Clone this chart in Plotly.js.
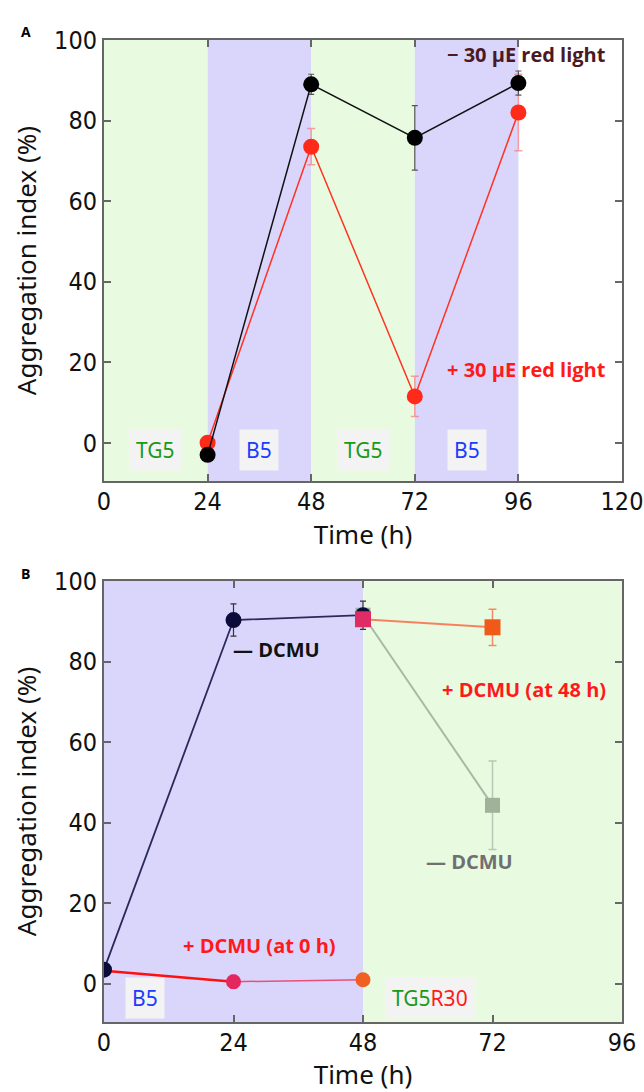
<!DOCTYPE html>
<html><head><meta charset="utf-8">
<script src="https://cdn.plot.ly/plotly-3.0.1.min.js"></script>
<style>html,body{margin:0;padding:0;background:#fff}#chart{width:644px;height:1092px}</style>
</head><body><div id="chart"></div>
<script>
// Panel A data
const timeA = [24, 48, 72, 96];
const minusRedA = [-3, 89, 75.7, 89.3];
const minusRedErrA = [0.8, 2.5, 8, 3];
const plusRedA = [0, 73.5, 11.5, 82];
const plusRedErrA = [0, 4.5, 5, 9.5];
const bandsA = [[0, 24, 'TG5'], [24, 48, 'B5'], [48, 72, 'TG5'], [72, 96, 'B5']];
// Panel B data
const timeB = [0, 24, 48];
const minusDCMU = [3.5, 90.3, 91.5];
const minusDCMUErr = [0, 4, 3.5];
const timeB2 = [48, 72];
const minusDCMU_R = [91.5, 44.3];
const minusDCMU_RErr = [0, 11];
const plusDCMU48 = [90.5, 88.5];
const plusDCMU48Err = [0, 4.5];
const plusDCMU0 = [3.2, 0.5, 1.0];
const plusDCMU0Err = [0, 1.5, 0];
const bandsB = [[0, 48, 'B5'], [48, 96, 'TG5R30']];
const ticksA = [0, 24, 48, 72, 96, 120];
const ticksB = [0, 24, 48, 72, 96];
const ticksY = [0, 20, 40, 60, 80, 100];

const GREEN = '#e8fbe1', PURPLE = '#dad5fb';
const tickFont = {family: '"Liberation Sans Narrow", "DejaVu Sans Condensed", "Roboto Condensed", Roboto, sans-serif', size: 25, color: '#111'};
const titleFont = {family: '"Noto Sans", Lato, sans-serif', size: 26, color: '#111'};
const boldFont = (c) => ({family: '"Open Sans", "Noto Sans", sans-serif', size: 20, color: c, weight: 700});

const traces = [
  // Panel A
  {x: timeA, y: plusRedA, xaxis: 'x', yaxis: 'y', mode: 'lines+markers',
   line: {color: '#ff3322', width: 1.5}, marker: {color: '#ff2a1a', size: 16},
   error_y: {type: 'data', array: plusRedErrA, color: 'rgba(255,90,90,0.55)', thickness: 1.5, width: 4}},
  {x: timeA, y: minusRedA, xaxis: 'x', yaxis: 'y', mode: 'lines+markers',
   line: {color: '#111', width: 1.5}, marker: {color: '#000', size: 16},
   error_y: {type: 'data', array: minusRedErrA, color: '#555', thickness: 1.2, width: 3}},
  // Panel B
  {x: timeB2, y: minusDCMU_R, xaxis: 'x2', yaxis: 'y2', mode: 'lines+markers',
   line: {color: '#a9b9a4', width: 2}, marker: {color: '#9fb39a', size: 15, symbol: 'square'},
   error_y: {type: 'data', array: minusDCMU_RErr, color: '#b8c8b4', thickness: 1.5, width: 4}},
  {x: timeB.slice(0, 2), y: plusDCMU0.slice(0, 2), xaxis: 'x2', yaxis: 'y2', mode: 'lines',
   line: {color: '#ff1010', width: 2.5}},
  {x: timeB.slice(1), y: plusDCMU0.slice(1), xaxis: 'x2', yaxis: 'y2', mode: 'lines+markers',
   line: {color: '#e8507a', width: 1.5}, marker: {color: ['#e2285e', '#f06020'], size: 15},
   error_y: {type: 'data', array: plusDCMU0Err.slice(1), color: '#e2285e', thickness: 2, width: 3}},
  {x: timeB, y: minusDCMU, xaxis: 'x2', yaxis: 'y2', mode: 'lines+markers',
   line: {color: '#2a2a5a', width: 1.8}, marker: {color: '#0c0c3a', size: 16},
   error_y: {type: 'data', array: minusDCMUErr, color: '#333', thickness: 1.2, width: 3}},
  {x: timeB2, y: plusDCMU48, xaxis: 'x2', yaxis: 'y2', mode: 'lines+markers',
   line: {color: '#f88060', width: 2}, marker: {color: ['#e02c64', '#f05a18'], size: 16, symbol: 'square'},
   error_y: {type: 'data', array: plusDCMU48Err, color: '#f28a6a', thickness: 1.5, width: 4}}
];

const shapes = [];
bandsA.forEach(b => shapes.push({type: 'rect', xref: 'x', yref: 'y domain', x0: b[0], x1: b[1], y0: 0, y1: 1,
  fillcolor: b[2] === 'B5' ? PURPLE : GREEN, line: {width: 0}, layer: 'below'}));
bandsB.forEach(b => shapes.push({type: 'rect', xref: 'x2', yref: 'y2 domain', x0: b[0], x1: b[1], y0: 0, y1: 1,
  fillcolor: b[2] === 'B5' ? PURPLE : GREEN, line: {width: 0}, layer: 'below'}));

const boxFont = (c) => ({family: '"Noto Sans", Roboto, sans-serif', size: 21, color: c});
const annotations = [];
bandsA.forEach(b => annotations.push({xref: 'x', yref: 'y', x: (b[0] + b[1]) / 2, y: -1.8, text: b[2], showarrow: false,
  font: boxFont(b[2] === 'B5' ? '#1a3cff' : '#1a9a1a'), bgcolor: '#f3f3f3', borderpad: 6}));
annotations.push({xref: 'x2', yref: 'y2', x: 7.6, y: -3.5, text: 'B5', showarrow: false, font: boxFont('#1a3cff'), bgcolor: '#f3f3f3', borderpad: 6});
annotations.push({xref: 'x2', yref: 'y2', x: 60.5, y: -3.5, text: '<span style="color:#1a9a1a">TG5</span><span style="color:#ff1a1a">R30</span>', showarrow: false, font: boxFont('#1a9a1a'), bgcolor: '#f3f3f3', borderpad: 6});

annotations.push({xref: 'x', yref: 'y', x: 116.8, y: 96.4, xanchor: 'right', text: '<b>− 30 µE red light</b>', showarrow: false, font: boldFont('#4a1a24')});
annotations.push({xref: 'x', yref: 'y', x: 116.8, y: 18.1, xanchor: 'right', text: '<b>+ 30 µE red light</b>', showarrow: false, font: boldFont('#ff1a1a')});
annotations.push({xref: 'x2', yref: 'y2', x: 23.5, y: 83, xanchor: 'left', text: '<b>— DCMU</b>', showarrow: false, font: boldFont('#111')});
annotations.push({xref: 'x2', yref: 'y2', x: 93.4, y: 73, xanchor: 'right', text: '<b>+ DCMU (at 48 h)</b>', showarrow: false, font: boldFont('#ff1a1a')});
annotations.push({xref: 'x2', yref: 'y2', x: 59.3, y: 30.3, xanchor: 'left', text: '<b>— DCMU</b>', showarrow: false, font: boldFont('#707070')});
annotations.push({xref: 'x2', yref: 'y2', x: 14.2, y: 9.4, xanchor: 'left', text: '<b>+ DCMU (at 0 h)</b>', showarrow: false, font: boldFont('#ff1a1a')});
annotations.push({xref: 'paper', yref: 'paper', x: -0.165, y: 1.02, xanchor: 'left', text: '<b>A</b>', showarrow: false, font: {family: '"Open Sans", sans-serif', size: 14, color: '#000'}});
annotations.push({xref: 'paper', yref: 'paper', x: -0.165, y: 0.457, xanchor: 'left', text: '<b>B</b>', showarrow: false, font: {family: '"Open Sans", sans-serif', size: 14, color: '#000'}});

const axCommon = {showgrid: false, zeroline: false, showline: true, mirror: 'ticks', linecolor: '#666', linewidth: 2,
  ticks: 'inside', ticklen: 7, tickwidth: 2, tickcolor: '#666', tickfont: tickFont, fixedrange: true,
  ticklabeloverflow: 'allow'};

const layout = {
  width: 644, height: 1092, margin: {l: 104, r: 22, t: 40, b: 70},
  paper_bgcolor: '#fff', plot_bgcolor: '#fff', showlegend: false,
  xaxis: Object.assign({}, axCommon, {anchor: 'y', domain: [0, 1], range: [0, 120], tickvals: ticksA,
    ticklabelstandoff: -3, title: {text: 'Time (h)', font: titleFont, standoff: 8}}),
  yaxis: Object.assign({}, axCommon, {anchor: 'x', domain: [0.5509, 1], range: [-9.5, 100], tickvals: ticksY,
    title: {text: 'Aggregation index (%)', font: titleFont, standoff: 10}}),
  xaxis2: Object.assign({}, axCommon, {anchor: 'y2', domain: [0, 1], range: [0, 96], tickvals: ticksB,
    ticklabelstandoff: -3, title: {text: 'Time (h)', font: titleFont, standoff: 10}}),
  yaxis2: Object.assign({}, axCommon, {anchor: 'x2', domain: [0, 0.4491], range: [-9.5, 100], tickvals: ticksY,
    title: {text: 'Aggregation index (%)', font: titleFont, standoff: 10}}),
  shapes: shapes, annotations: annotations
};
Plotly.newPlot('chart', traces, layout, {displayModeBar: false, staticPlot: true});
</script></body></html>
